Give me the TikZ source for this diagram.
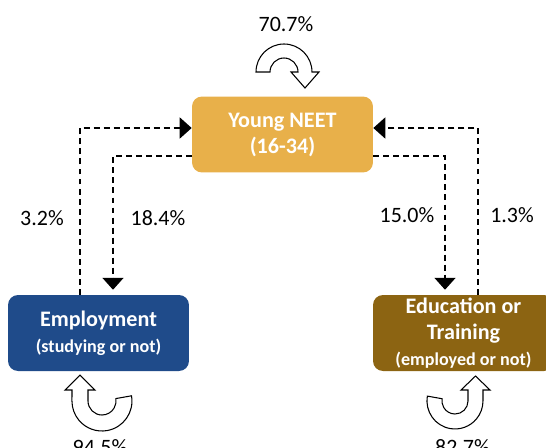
\documentclass[tikz,border=0pt]{standalone}
\usepackage{fontspec}
\setmainfont{Carlito}
\usetikzlibrary{arrows.meta,positioning}
\usepackage{xcolor}
\definecolor{neetgold}{HTML}{E8B04A}
\definecolor{empblue}{HTML}{1F4B8A}
\definecolor{edubrown}{HTML}{8C6412}

\begin{document}
\begin{tikzpicture}[x=0.02cm, y=0.02cm,
    state/.style={
        rectangle,
        rounded corners=0.2cm,
        minimum width=3.62cm,
        minimum height=1.52cm,
        align=center,
        text=white,
        font=\bfseries\fontsize{12.6}{14.8}\selectfont
    },
    share/.style={font=\fontsize{12.5}{14}\selectfont, inner sep=0pt},
    flow/.style={
        black,
        line width=0.75pt,
        dash pattern=on 3.4pt off 2.3pt,
        -{Triangle[length=6.8pt, width=12pt]}
    },
    uturn/.style={draw=black, fill=white, line width=0.6pt}
]
    \useasboundingbox (0,0) rectangle (546,447);

    \node (neet) [state, fill=neetgold, shift={(282.5,312.5)}]
    {
        Young NEET\\(16-34)
    };



    \node (employment) [state, fill=empblue, shift={(98.5,114)}]
    {
        Employment\\{\fontsize{10.3}{13}\selectfont (studying or not)}
    };
    \node (education) [state, fill=edubrown, inner sep=0pt, shift={(463.5,114)}]
    {
        Education or\\Training\\{\fontsize{10.3}{13}\selectfont (employed or not)}
    };



    \node (stay_neet) [share, shift={(286,422.5)}] {70.7\%};
    \node (emp_to_neet) [share, shift={(42,229)}] {3.2\%};
    \node (neet_to_emp) [share, shift={(158,229)}] {18.4\%};
    \node (neet_to_edu) [share, shift={(407,232)}] {15.0\%};
    \node (edu_to_neet) [share, shift={(512,232)}] {1.3\%};
    \node (stay_emp) [share, shift={(100,0)}] {94.5\%};
    \node (stay_edu) [share, shift={(462.5,0)}] {82.7\%};



    \draw[flow] ([xshift=-0.37cm]employment.north) |- ([yshift=0.13cm]neet.west);
    \draw[flow, shorten >=2.8pt] ([yshift=-0.43cm]neet.west) -| ([xshift=0.29cm]employment.north);
    \draw[flow] ([xshift=0.29cm]education.north) |- ([yshift=0.13cm]neet.east);
    \draw[flow, shorten >=2.8pt] ([yshift=-0.43cm]neet.east) -| ([xshift=-0.37cm]education.north);


    % staying in the same state
    \draw[uturn] (256,375) arc[start angle=180, end angle=0, radius=28]
        -- (319,375) -- (305,359) -- (291,375) -- (298,375)
        arc[start angle=0, end angle=180, radius=14] -- cycle;
    \draw[uturn] (131.5,51.2) arc[start angle=10, end angle=-180, radius=30]
        -- (72,57) -- (65,57) -- (80,72) -- (95,57) -- (88,57) -- (88,46)
        arc[start angle=180, end angle=370, radius=14] -- cycle;
    \draw[uturn] (427.4,50.9) arc[start angle=170, end angle=360, radius=28]
        -- (483,57) -- (490,57) -- (475.5,71) -- (461,57) -- (468,57) -- (468,46)
        arc[start angle=0, end angle=-190, radius=13] -- cycle;


\end{tikzpicture}
\end{document}
